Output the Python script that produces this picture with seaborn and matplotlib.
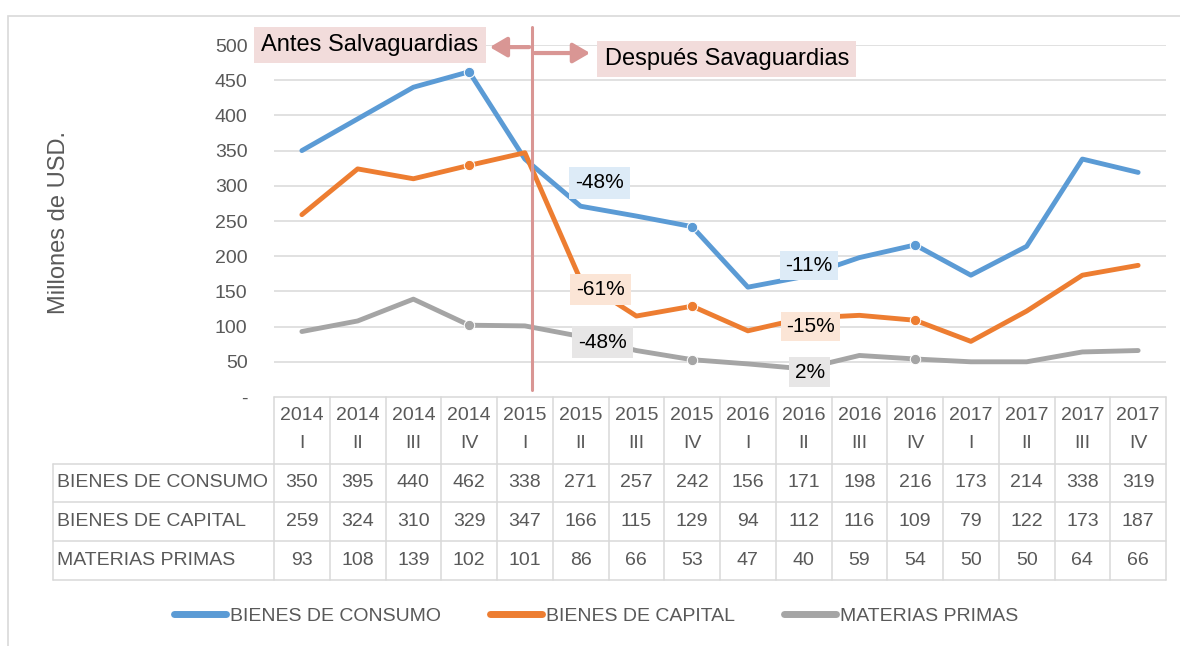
import matplotlib
matplotlib.use("Agg")
import matplotlib.pyplot as plt
import matplotlib.transforms as mtransforms
from matplotlib.lines import Line2D
from matplotlib.patches import Rectangle
import seaborn as sns
import pandas as pd

# ---------------- data ----------------
years = ["2014", "2014", "2014", "2014", "2015", "2015", "2015", "2015",
         "2016", "2016", "2016", "2016", "2017", "2017", "2017", "2017"]
quarters = ["I", "II", "III", "IV", "I", "II", "III", "IV",
            "I", "II", "III", "IV", "I", "II", "III", "IV"]
series_names = ["BIENES DE CONSUMO", "BIENES DE CAPITAL", "MATERIAS PRIMAS"]
consumo = [350, 395, 440, 462, 338, 271, 257, 242, 156, 171, 198, 216, 173, 214, 338, 319]
capital = [259, 324, 310, 329, 347, 166, 115, 129, 94, 112, 116, 109, 79, 122, 173, 187]
materias = [93, 108, 139, 102, 101, 86, 66, 53, 47, 40, 59, 54, 50, 50, 64, 66]
pct_labels_2015 = ["-48%", "-61%", "-48%"]
pct_labels_2016 = ["-11%", "-15%", "2%"]
yticks = [0, 50, 100, 150, 200, 250, 300, 350, 400, 450, 500]

values = [consumo, capital, materias]
colors = ["#5B9BD5", "#ED7D31", "#A5A5A5"]
box_colors = ["#DDEBF7", "#FBE5D6", "#E7E6E6"]
TXT = "#595959"
GRID = "#D9D9D9"
RED = "#D99694"

rows = []
for name, vals in zip(series_names, values):
    for i, v in enumerate(vals):
        rows.append({"idx": i, "valor": v, "serie": name})
df = pd.DataFrame(rows)

sns.set_theme(style="white")
plt.rcParams["font.family"] = ["Liberation Sans", "DejaVu Sans"]

W, H = 1180, 646
fig = plt.figure(figsize=(W / 100, H / 100), dpi=100)
ax = fig.add_axes([274 / W, 1 - 397 / H, 892 / W, 352 / H])

sns.lineplot(data=df, x="idx", y="valor", hue="serie", hue_order=series_names,
             palette=colors, linewidth=3.5, legend=False, ax=ax, sort=False, zorder=3)
for ln in ax.lines:
    ln.set_marker("o")
    ln.set_markersize(7.5)
    ln.set_markevery([3, 7, 11])
    ln.set_solid_joinstyle("round")

ax.set_xlim(-0.5, 15.5)
ax.set_ylim(0, 500)
ax.set_yticks(yticks)
ax.set_yticklabels(["-" if t == 0 else str(t) for t in yticks], color=TXT, fontsize=14)
ax.tick_params(axis="y", length=0, pad=19)
ax.set_xticks([])
ax.set_xlabel("")
ax.set_ylabel("")
for s in ax.spines.values():
    s.set_visible(False)
for t in yticks[1:]:
    ax.axhline(t, color=GRID, lw=1.1, zorder=1)

ax.text(-0.241, 0.497, "Millones de USD.", transform=ax.transAxes, rotation=90,
        ha="center", va="center", fontsize=17, color=TXT)

# ---------------- salvaguardias marker ----------------
xs = 4.126
ax.plot([xs, xs], [10, 525], color=RED, lw=2.2, clip_on=False, zorder=4)
ax.annotate("", xy=(3.32, 497), xytext=(xs, 497),
            arrowprops=dict(arrowstyle="-|>,head_length=0.6,head_width=0.35", color=RED,
                            lw=3, mutation_scale=17),
            annotation_clip=False, zorder=4)
ax.annotate("", xy=(5.22, 488.6), xytext=(xs, 488.6),
            arrowprops=dict(arrowstyle="-|>,head_length=0.6,head_width=0.35", color=RED,
                            lw=3, mutation_scale=17),
            annotation_clip=False, zorder=4)
ax.text(1.22, 500, "Antes Salvaguardias", ha="center", va="center", fontsize=17,
        color="black", zorder=5, clip_on=False,
        bbox=dict(boxstyle="square,pad=0.3", fc="#F2DCDB", ec="none"))
ax.text(7.62, 480, "Después Savaguardias", ha="center", va="center", fontsize=17,
        color="black", zorder=5, clip_on=False,
        bbox=dict(boxstyle="square,pad=0.3", fc="#F2DCDB", ec="none"))

# ---------------- percentage labels ----------------
pos_2015 = [(5.345, 304), (5.36, 152.7), (5.39, 78)]
pos_2016 = [(9.10, 186.8), (9.12, 100), (9.11, 35.5)]
for lab, (x, y), bc in zip(pct_labels_2015, pos_2015, box_colors):
    ax.text(x, y, lab, ha="center", va="center", fontsize=15, color="black", zorder=6,
            bbox=dict(boxstyle="square,pad=0.3", fc=bc, ec="none"))
for lab, (x, y), bc in zip(pct_labels_2016, pos_2016, box_colors):
    ax.text(x, y, lab, ha="center", va="center", fontsize=15, color="black", zorder=6,
            bbox=dict(boxstyle="square,pad=0.25", fc=bc, ec="none"))

# ---------------- data table ----------------
blend = mtransforms.blended_transform_factory(ax.transData, ax.transAxes)
hl = [0, -0.1903, -0.2983, -0.4091, -0.5199]
xleft = -0.2481
n = len(years)
ax.plot([-0.5, n - 0.5], [hl[0], hl[0]], transform=blend, color=GRID, lw=1.1, clip_on=False)
for y in hl[1:]:
    ax.plot([xleft, 1], [y, y], transform=ax.transAxes, color=GRID, lw=1.1, clip_on=False)
for i in range(n + 1):
    ax.plot([i - 0.5, i - 0.5], [hl[0], hl[-1]], transform=blend, color=GRID, lw=1.1, clip_on=False)
ax.plot([xleft, xleft], [hl[1], hl[-1]], transform=ax.transAxes, color=GRID, lw=1.1, clip_on=False)

for i in range(n):
    ax.text(i, -0.0526, years[i], transform=blend, ha="center", va="center",
            fontsize=14, color=TXT, clip_on=False)
    ax.text(i, -0.1321, quarters[i], transform=blend, ha="center", va="center",
            fontsize=14, color=TXT, clip_on=False)
row_y = [-0.2443, -0.3537, -0.4645]
for name, vals, ry in zip(series_names, values, row_y):
    ax.text(-0.2433, ry, name, transform=ax.transAxes, ha="left", va="center",
            fontsize=14, color=TXT, clip_on=False)
    for i, v in enumerate(vals):
        ax.text(i, ry, str(v), transform=blend, ha="center", va="center",
                fontsize=14, color=TXT, clip_on=False)

# ---------------- legend ----------------
handles = [Line2D([0], [0], color=c, lw=5, solid_capstyle="round") for c in colors]
leg = fig.legend(handles, series_names, loc="center", bbox_to_anchor=(596 / W, 1 - 616 / H),
                 ncol=3, frameon=False, fontsize=14, handlelength=2.7, handletextpad=0.2,
                 columnspacing=2.5)
for t in leg.get_texts():
    t.set_color(TXT)

# outer frame
fig.patches.append(Rectangle((8 / W, -0.1), 1.2, 1.1 - 16 / H, transform=fig.transFigure,
                             fill=False, ec=GRID, lw=1.2))

fig.savefig("out.png", dpi=100)
